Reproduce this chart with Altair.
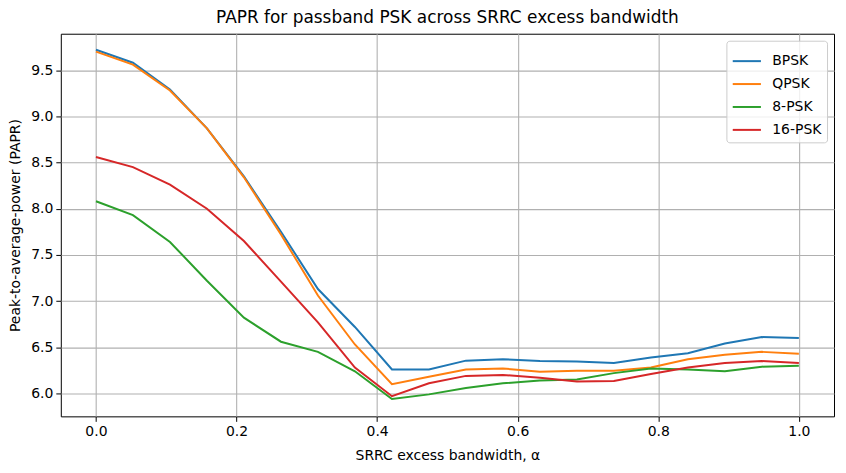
import altair as alt
import pandas as pd

alphas = [0.0, 0.0526, 0.1053, 0.1579, 0.2105, 0.2632, 0.3158, 0.3684, 0.4211, 0.4737,
          0.5263, 0.5789, 0.6316, 0.6842, 0.7368, 0.7895, 0.8421, 0.8947, 0.9474, 1.0]
series_names = ["BPSK", "QPSK", "8-PSK", "16-PSK"]
bpsk = [9.72, 9.58, 9.29, 8.87, 8.35, 7.75, 7.13, 6.72, 6.26, 6.26,
        6.355, 6.37, 6.35, 6.345, 6.33, 6.39, 6.435, 6.54, 6.61, 6.60]
qpsk = [9.70, 9.56, 9.28, 8.87, 8.34, 7.72, 7.06, 6.53, 6.10, 6.18,
        6.26, 6.27, 6.235, 6.245, 6.245, 6.28, 6.37, 6.42, 6.45, 6.43]
psk8 = [8.08, 7.93, 7.64, 7.22, 6.82, 6.56, 6.45, 6.24, 5.94, 5.99,
        6.06, 6.11, 6.14, 6.15, 6.22, 6.27, 6.26, 6.24, 6.29, 6.30]
psk16 = [8.56, 8.45, 8.26, 8.00, 7.65, 7.21, 6.77, 6.28, 5.97, 6.11,
         6.19, 6.20, 6.17, 6.13, 6.135, 6.21, 6.28, 6.33, 6.35, 6.33]
colors = ["#1f77b4", "#ff7f0e", "#2ca02c", "#d62728"]

rows = []
for name, vals in zip(series_names, [bpsk, qpsk, psk8, psk16]):
    for a, v in zip(alphas, vals):
        rows.append({"alpha": a, "papr": v, "mod": name})
df = pd.DataFrame(rows)

font = "DejaVu Sans"

chart = alt.Chart(df).mark_line(strokeWidth=2, clip=True).encode(
    x=alt.X("alpha:Q",
            scale=alt.Scale(domain=[-0.05, 1.05], nice=False, zero=False),
            axis=alt.Axis(title="SRRC excess bandwidth, α",
                          values=[0.0, 0.2, 0.4, 0.6, 0.8, 1.0], format=".1f")),
    y=alt.Y("papr:Q",
            scale=alt.Scale(domain=[5.752, 9.894], nice=False, zero=False),
            axis=alt.Axis(title="Peak-to-average-power (PAPR)",
                          values=[6.0, 6.5, 7.0, 7.5, 8.0, 8.5, 9.0, 9.5], format=".1f")),
    color=alt.Color("mod:N",
                    scale=alt.Scale(domain=series_names, range=colors),
                    sort=series_names,
                    legend=alt.Legend(title=None, orient="top-right", symbolType="stroke",
                                      symbolStrokeWidth=2, symbolSize=800,
                                      labelFont=font, labelFontSize=14, labelOffset=10,
                                      fillColor="rgba(255,255,255,0.8)", strokeColor="#cccccc",
                                      padding=5, cornerRadius=3, rowPadding=-4,
                                      offset=7)),
    detail="mod:N",
).properties(
    width=776, height=384,
    title=alt.TitleParams("PAPR for passband PSK across SRRC excess bandwidth",
                          font=font, fontSize=17, fontWeight="normal", color="black",
                          offset=7),
    autosize=alt.AutoSizeParams(type="none"),
    padding={"left": 53, "top": 25, "right": 4, "bottom": 48},
).configure_view(
    stroke="black", strokeWidth=1
).configure_axis(
    grid=True, gridColor="#b0b0b0", gridWidth=1.1,
    domain=False, ticks=True, tickColor="black", tickSize=5, tickWidth=1,
    labelFont=font, labelFontSize=14, labelColor="black",
    titleFont=font, titleFontSize=14, titleFontWeight="normal", titleColor="black",
    labelPadding=3,
).configure_axisY(titlePadding=8).configure_axisX(titlePadding=10)

chart.save("out.html", embed_options={"renderer": "svg", "actions": False})
